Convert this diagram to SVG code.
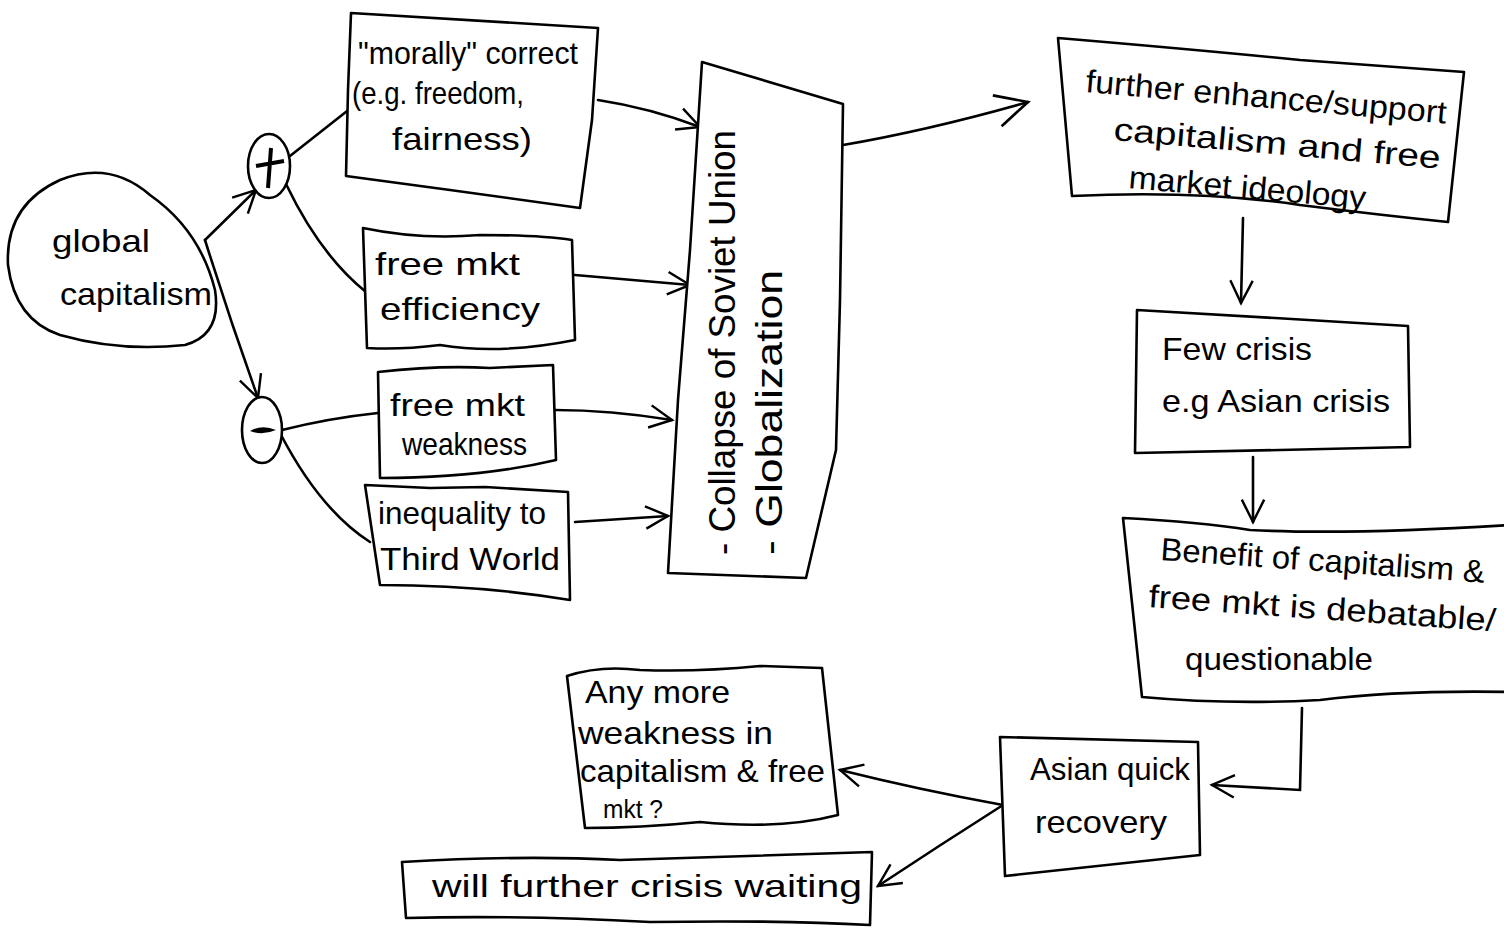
<svg xmlns="http://www.w3.org/2000/svg" width="1504" height="930" viewBox="0 0 1504 930">
<style>
.box{fill:#fff;stroke:#000;stroke-width:2.6;stroke-linejoin:round}
.c{fill:none;stroke:#000;stroke-width:2.6;stroke-linecap:round}
.t{font-family:"Liberation Sans","DejaVu Sans",sans-serif;font-size:32px;fill:#000}
</style>
<defs>
<marker id="v" viewBox="0 0 30 30" refX="27" refY="15" markerWidth="28" markerHeight="28" markerUnits="userSpaceOnUse" orient="auto">
<path d="M3,3 L27,15 L3,27" fill="none" stroke="#000" stroke-width="2.6"/>
</marker>
<marker id="vb" viewBox="0 0 30 30" refX="27" refY="15" markerWidth="40" markerHeight="40" markerUnits="userSpaceOnUse" orient="auto">
<path d="M3,3 L27,15 L3,27" fill="none" stroke="#000" stroke-width="2"/>
</marker>
</defs>
<rect width="1504" height="930" fill="#fff"/>

<g id="connectors">
<path class="c" d="M205,240 L256,190" marker-end="url(#v)"/>
<path class="c" d="M205,240 Q230,320 258,398" marker-end="url(#v)"/>
<path class="c" d="M356,104 L290,156"/>
<path class="c" d="M286,184 Q320,255 366,292"/>
<path class="c" d="M282,430 Q330,418 378,413"/>
<path class="c" d="M280,433 Q320,510 370,542"/>
<path class="c" d="M598,100 Q650,108 700,127" marker-end="url(#v)"/>
<path class="c" d="M575,275 Q630,280 690,285" marker-end="url(#v)"/>
<path class="c" d="M555,410 Q610,410 672,420" marker-end="url(#v)"/>
<path class="c" d="M575,522 L668,516" marker-end="url(#v)"/>
<path class="c" d="M843,145 Q930,130 1028,102" marker-end="url(#vb)"/>
<path class="c" d="M1243,218 L1241,303" marker-end="url(#v)"/>
<path class="c" d="M1253,457 L1253,522" marker-end="url(#v)"/>
<path class="c" d="M1302,708 L1300,790 L1212,785" marker-end="url(#v)"/>
<path class="c" d="M1003,805 Q920,790 840,770" marker-end="url(#v)"/>
<path class="c" d="M1003,805 Q940,845 878,886" marker-end="url(#v)"/>
</g>

<g id="global-capitalism">
<path class="box" d="M60,180 Q110,160 150,195 Q200,230 215,290 Q222,335 185,345 Q120,352 60,335 Q15,320 8,265 Q5,205 60,180 Z"/>
<text class="t" x="52" y="252" textLength="98" lengthAdjust="spacingAndGlyphs">global</text>
<text class="t" x="60" y="305" textLength="152" lengthAdjust="spacingAndGlyphs">capitalism</text>
</g>

<g id="plus">
<ellipse class="box" cx="269" cy="166" rx="21" ry="32"/>
<path d="M256,166 L284,161 M271,148 L268,188" stroke="#000" stroke-width="4" fill="none"/>
</g>

<g id="minus">
<ellipse class="box" cx="262" cy="430" rx="20" ry="33"/>
<path d="M250,431 Q262,424 276,430 Q262,436 250,431 Z" fill="#000"/>
</g>

<g id="morally-correct">
<path class="box" d="M351,13 L598,28 L592,120 L580,208 L450,190 L346,176 L348,90 Z"/>
<text class="t" x="358" y="64" textLength="220" lengthAdjust="spacingAndGlyphs">"morally" correct</text>
<text class="t" x="352" y="104" textLength="172" lengthAdjust="spacingAndGlyphs">(e.g. freedom,</text>
<text class="t" x="392" y="150" textLength="140" lengthAdjust="spacingAndGlyphs">fairness)</text>
</g>

<g id="free-mkt-efficiency">
<path class="box" d="M363,228 Q420,240 480,235 Q540,235 572,240 L575,340 Q500,355 440,345 Q400,350 367,348 Z"/>
<text class="t" x="375" y="275" textLength="145" lengthAdjust="spacingAndGlyphs">free mkt</text>
<text class="t" x="380" y="320" textLength="160" lengthAdjust="spacingAndGlyphs">efficiency</text>
</g>

<g id="free-mkt-weakness">
<path class="box" d="M378,372 Q440,365 490,368 L553,365 L556,460 Q480,478 380,478 Z"/>
<text class="t" x="390" y="416" textLength="135" lengthAdjust="spacingAndGlyphs">free mkt</text>
<text class="t" x="402" y="455" textLength="125" lengthAdjust="spacingAndGlyphs">weakness</text>
</g>

<g id="inequality">
<path class="box" d="M365,485 L430,488 L485,487 L568,492 L570,600 Q480,585 380,585 Z"/>
<text class="t" x="378" y="524" textLength="168" lengthAdjust="spacingAndGlyphs">inequality to</text>
<text class="t" x="380" y="570" textLength="180" lengthAdjust="spacingAndGlyphs">Third World</text>
</g>

<g id="collapse-globalization">
<path class="box" d="M702,62 L843,104 L840,300 L836,450 L806,578 L668,573 L678,400 L690,250 Z"/>
<text class="t" style="font-size:36px" transform="translate(735,555) rotate(-90)" textLength="425" lengthAdjust="spacingAndGlyphs">- Collapse  of  Soviet  Union</text>
<text class="t" style="font-size:36px" transform="translate(782,555) rotate(-90)" textLength="285" lengthAdjust="spacingAndGlyphs">- Globalization</text>
</g>

<g id="further-enhance">
<path class="box" d="M1058,38 Q1200,50 1300,60 L1464,72 L1448,222 Q1380,215 1300,205 Q1200,190 1072,196 Z"/>
<text class="t" transform="translate(1085,92) rotate(5)" textLength="362" lengthAdjust="spacingAndGlyphs">further enhance/support</text>
<text class="t" transform="translate(1113,140) rotate(5)" textLength="328" lengthAdjust="spacingAndGlyphs">capitalism and free</text>
<text class="t" transform="translate(1128,188) rotate(5)" textLength="238" lengthAdjust="spacingAndGlyphs">market ideology</text>
</g>

<g id="few-crisis">
<path class="box" d="M1137,310 L1275,318 L1408,326 L1410,447 L1280,450 L1135,453 Z"/>
<text class="t" x="1162" y="360" textLength="150" lengthAdjust="spacingAndGlyphs">Few crisis</text>
<text class="t" x="1162" y="412" textLength="228" lengthAdjust="spacingAndGlyphs">e.g Asian crisis</text>
</g>

<g id="benefit">
<path class="box" d="M1123,518 Q1200,522 1250,530 Q1350,535 1510,525 L1510,692 Q1400,690 1320,700 Q1230,705 1142,697 Z"/>
<text class="t" transform="translate(1160,560) rotate(4)" textLength="325" lengthAdjust="spacingAndGlyphs">Benefit of capitalism &amp;</text>
<text class="t" transform="translate(1148,607) rotate(4)" textLength="348" lengthAdjust="spacingAndGlyphs">free mkt is debatable/</text>
<text class="t" x="1185" y="670" textLength="188" lengthAdjust="spacingAndGlyphs">questionable</text>
</g>

<g id="asian-recovery">
<path class="box" d="M1000,737 L1198,742 L1200,855 L1005,876 Z"/>
<text class="t" x="1030" y="780" textLength="160" lengthAdjust="spacingAndGlyphs">Asian quick</text>
<text class="t" x="1035" y="833" textLength="132" lengthAdjust="spacingAndGlyphs">recovery</text>
</g>

<g id="any-more-weakness">
<path class="box" d="M567,676 Q600,665 640,670 Q700,672 760,666 L822,668 L838,815 Q780,830 700,822 Q640,828 585,828 Z"/>
<text class="t" x="585" y="703" textLength="145" lengthAdjust="spacingAndGlyphs">Any more</text>
<text class="t" x="578" y="744" textLength="195" lengthAdjust="spacingAndGlyphs">weakness in</text>
<text class="t" x="580" y="782" textLength="245" lengthAdjust="spacingAndGlyphs">capitalism &amp; free</text>
<text class="t" style="font-size:26px" x="603" y="818" textLength="60" lengthAdjust="spacingAndGlyphs">mkt ?</text>
</g>

<g id="further-crisis">
<path class="box" d="M402,862 Q520,855 620,860 Q760,855 872,852 L870,925 Q780,920 650,922 Q520,915 406,918 Z"/>
<text class="t" x="432" y="897" textLength="430" lengthAdjust="spacingAndGlyphs">will further crisis waiting</text>
</g>
</svg>
